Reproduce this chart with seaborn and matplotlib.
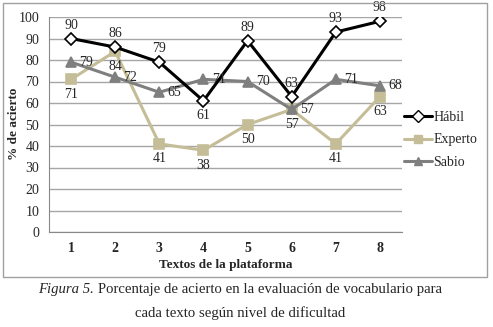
import numpy as np
import pandas as pd
import matplotlib
matplotlib.use("Agg")
import matplotlib.pyplot as plt
import seaborn as sns
from matplotlib.lines import Line2D
from matplotlib.patches import Rectangle

# datos
textos = [1, 2, 3, 4, 5, 6, 7, 8]
habil = [90, 86, 79, 61, 89, 63, 93, 98]
experto = [71, 84, 41, 38, 50, 57, 41, 63]
sabio = [79, 72, 65, 71, 70, 57, 71, 68]
niveles = ["Hábil", "Experto", "Sabio"]

df = pd.DataFrame({"texto": textos * 3,
                   "valor": habil + experto + sabio,
                   "nivel": np.repeat(niveles, len(textos))})

sns.set_style("white")
plt.rcParams["font.family"] = ["Liberation Serif", "DejaVu Serif"]

colores = {"Hábil": "black", "Experto": "#c4bd97", "Sabio": "#7f7f7f"}
marcas = {"Hábil": "D", "Experto": "s", "Sabio": "^"}

W, H = 493, 327
fig = plt.figure(figsize=(W / 100, H / 100), dpi=100)
ax = fig.add_axes([49 / W, 1 - 232 / H, (402 - 49) / W, (232 - 17) / H])

# orden de dibujo: Experto, Sabio, Hábil encima
for nv in ["Experto", "Sabio", "Hábil"]:
    sub = df[df.nivel == nv]
    mfc = "white" if nv == "Hábil" else colores[nv]
    ms = 6 if nv == "Hábil" else 7
    sns.lineplot(data=sub, x="texto", y="valor", ax=ax, color=colores[nv],
                 lw=2.2, marker=marcas[nv], markersize=ms,
                 markerfacecolor=mfc, markeredgecolor=colores[nv],
                 markeredgewidth=1.2, legend=False)

# etiquetas de datos (Hábil arriba salvo el texto 4)
fs = 10
for i, (x, v) in enumerate(zip(textos, habil)):
    if i == 3:
        ax.annotate(str(v), (x, v), xytext=(0, -6), textcoords="offset points",
                    ha="center", va="top", fontsize=fs)
    else:
        ax.annotate(str(v), (x, v), xytext=(0, 5), textcoords="offset points",
                    ha="center", va="bottom", fontsize=fs)
for x, v in zip(textos, experto):
    ax.annotate(str(v), (x, v), xytext=(0, -6), textcoords="offset points",
                ha="center", va="top", fontsize=fs)
for x, v in zip(textos, sabio):
    ax.annotate(str(v), (x, v), xytext=(6, 0), textcoords="offset points",
                ha="left", va="center", fontsize=fs)

ax.set_xlim(0.5, 8.5)
ax.set_ylim(0, 100)
ax.set_yticks(range(0, 101, 10))
ax.set_xticks(textos)
ax.set_xticks(np.arange(0.5, 9, 1), minor=True)
ax.tick_params(axis="x", which="major", length=0, labelsize=fs, pad=7)
ax.tick_params(axis="x", which="minor", length=3, color="#888888", direction="out")
ax.tick_params(axis="y", length=4, color="#a6a6a6", direction="out", labelsize=fs, pad=3)
for t in ax.get_xticklabels():
    t.set_fontweight("bold")
ax.grid(axis="y", color="#a6a6a6", lw=1)
ax.set_axisbelow(True)
for s in ["top", "right"]:
    ax.spines[s].set_visible(False)
ax.spines["left"].set_color("#888888")
ax.spines["bottom"].set_color("#888888")

ax.set_xlabel("Textos de la plataforma", fontsize=9.5, fontweight="bold", labelpad=3)
ax.set_ylabel("% de acierto", fontsize=9.5, fontweight="bold")
ax.yaxis.set_label_coords((20 - 49) / 353, (232 - 124) / 215)

handles = [Line2D([], [], color=colores[n], lw=2.2, marker=marcas[n],
                  markersize=6, markerfacecolor="white" if n == "Hábil" else colores[n],
                  markeredgecolor=colores[n]) for n in niveles]
fig.legend(handles, niveles, loc="upper left", bbox_to_anchor=(404 / W, 1 - 111 / H),
           frameon=False, fontsize=10, handlelength=2.0, handletextpad=0.1,
           labelspacing=0.68, borderpad=0, borderaxespad=0)

# marco del gráfico
fig.patches.append(Rectangle((3 / W, 1 - 277 / H), 484 / W, 274 / H,
                             transform=fig.transFigure, fill=False,
                             edgecolor="#a0a0a0", lw=1))

# pie de figura
t1 = fig.text(38 / W, 1 - 290 / H, "Figura 5.", fontsize=10.6, style="italic",
              va="center", ha="left")
fig.canvas.draw()
bb = t1.get_window_extent()
fig.text((bb.x1 + 4) / W, 1 - 290 / H,
         "Porcentaje de acierto en la evaluación de vocabulario para",
         fontsize=10.6, va="center", ha="left")
fig.text(135 / W, 1 - 313 / H, "cada texto según nivel de dificultad",
         fontsize=10.6, va="center", ha="left")

fig.savefig("out.png", dpi=100)
